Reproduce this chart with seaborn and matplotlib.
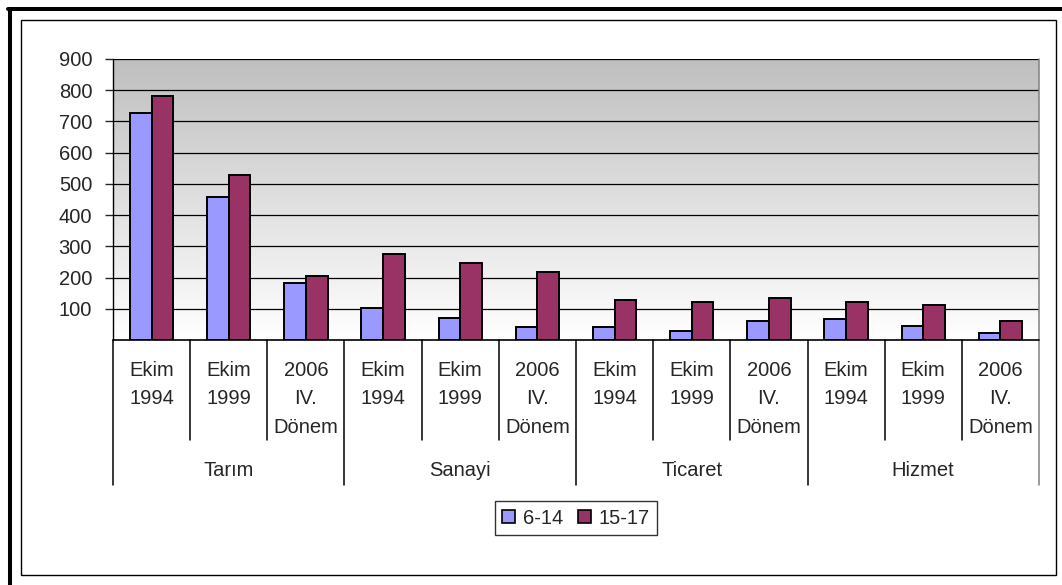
import numpy as np
import pandas as pd
import matplotlib
matplotlib.use("Agg")
import matplotlib.pyplot as plt
import matplotlib.transforms as mtransforms
from matplotlib.patches import Rectangle
from matplotlib.lines import Line2D
import seaborn as sns

# veriler
sectors = ["Tarım", "Sanayi", "Ticaret", "Hizmet"]
periods = ["Ekim\n1994", "Ekim\n1999", "2006\nIV.\nDönem"]
series = ["6-14", "15-17"]
age_6_14 = [727, 458, 182, 104, 69, 43, 43, 28, 62, 68, 44, 21]
age_15_17 = [780, 528, 206, 277, 248, 218, 128, 123, 134, 123, 111, 62]
yticks = [100, 200, 300, 400, 500, 600, 700, 800, 900]

colors = {"6-14": "#9999FF", "15-17": "#993366"}

rows = []
i = 0
for s in sectors:
    for p in periods:
        key = f"{s}|{p}"
        rows.append({"key": key, "grup": "6-14", "deger": age_6_14[i]})
        rows.append({"key": key, "grup": "15-17", "deger": age_15_17[i]})
        i += 1
df = pd.DataFrame(rows)
order = [f"{s}|{p}" for s in sectors for p in periods]

sns.set_style("white")
plt.rcParams["font.family"] = ["Liberation Sans", "DejaVu Sans"]

W, H = 1062, 585
fig = plt.figure(figsize=(W / 100, H / 100), dpi=100)
x0, x1, y0, y1 = 113, 1039, 59, 340
ax = fig.add_axes([x0 / W, 1 - y1 / H, (x1 - x0) / W, (y1 - y0) / H])

# gri -> beyaz degrade arka plan
grad = np.linspace(0, 1, 256).reshape(-1, 1)
cmap = matplotlib.colors.LinearSegmentedColormap.from_list("g", ["#FFFFFF", "#BFBFBF"])
ax.imshow(grad, extent=(-0.5, 11.5, 0, 900), origin="lower", aspect="auto",
          cmap=cmap, zorder=0)

for yv in yticks:
    ax.axhline(yv, color="black", lw=0.9, zorder=1)

sns.barplot(data=df, x="key", y="deger", hue="grup", order=order,
            hue_order=series, palette=colors, width=0.56, saturation=1,
            edgecolor="black", linewidth=1.4, ax=ax, legend=False, zorder=2)

ax.set_xlim(-0.5, 11.5)
ax.set_ylim(0, 900)
ax.set_yticks(yticks)
ax.set_yticklabels([str(v) for v in yticks], fontsize=14.5)
ax.tick_params(axis="y", direction="out", length=6, width=1, pad=9, left=True)
ax.set_xticks([])
ax.set_xlabel("")
ax.set_ylabel("")
for side in ["top", "right", "bottom"]:
    ax.spines[side].set_visible(False)
ax.spines["left"].set_color("black")
ax.spines["left"].set_linewidth(1)
ax.axhline(0, color="black", lw=1.2, zorder=3, clip_on=False)

# kategori ayraclari ve etiketleri
trans = mtransforms.blended_transform_factory(ax.transData, ax.transAxes)
ah = y1 - y0
for k in range(13):
    low = 485 if k % 3 == 0 else 440
    top = 1 if k == 12 else 0
    col = "#808080" if k == 12 else "black"
    ax.plot([k - 0.5, k - 0.5], [top, -(low - y1) / ah], transform=trans,
            color=col, lw=1.1, clip_on=False)
for j, key in enumerate(order):
    ax.text(j, -(361 - y1) / ah, key.split("|")[1], transform=trans,
            ha="center", va="top", fontsize=14.5, linespacing=1.63)
for g, s in enumerate(sectors):
    ax.text(3 * g + 1, -(471 - y1) / ah, s, transform=trans,
            ha="center", va="center", fontsize=14.5)

handles = [Rectangle((0, 0), 1, 1, facecolor=colors[s], edgecolor="black", lw=1.2) for s in series]
leg = fig.legend(handles, series, loc="center", bbox_to_anchor=(576 / W, 1 - 518 / H),
                 ncol=2, fontsize=14.5, frameon=True, fancybox=False, handlelength=0.65,
                 handleheight=0.65, handletextpad=0.4, columnspacing=0.7,
                 borderpad=0.35)
leg.get_frame().set_edgecolor("black")
leg.get_frame().set_linewidth(1)

# cerceveler
fig.add_artist(Line2D([10 / W, 10 / W], [0, 1 - 9 / H], color="black", lw=2.9))
fig.add_artist(Line2D([8 / W, 1], [1 - 9 / H, 1 - 9 / H], color="black", lw=2.9))
fig.add_artist(Rectangle((21 / W, 1 - 575 / H), (1056 - 21) / W, (575 - 20) / H,
                         fill=False, edgecolor="black", lw=1, transform=fig.transFigure))

fig.savefig("out.png", dpi=100)
